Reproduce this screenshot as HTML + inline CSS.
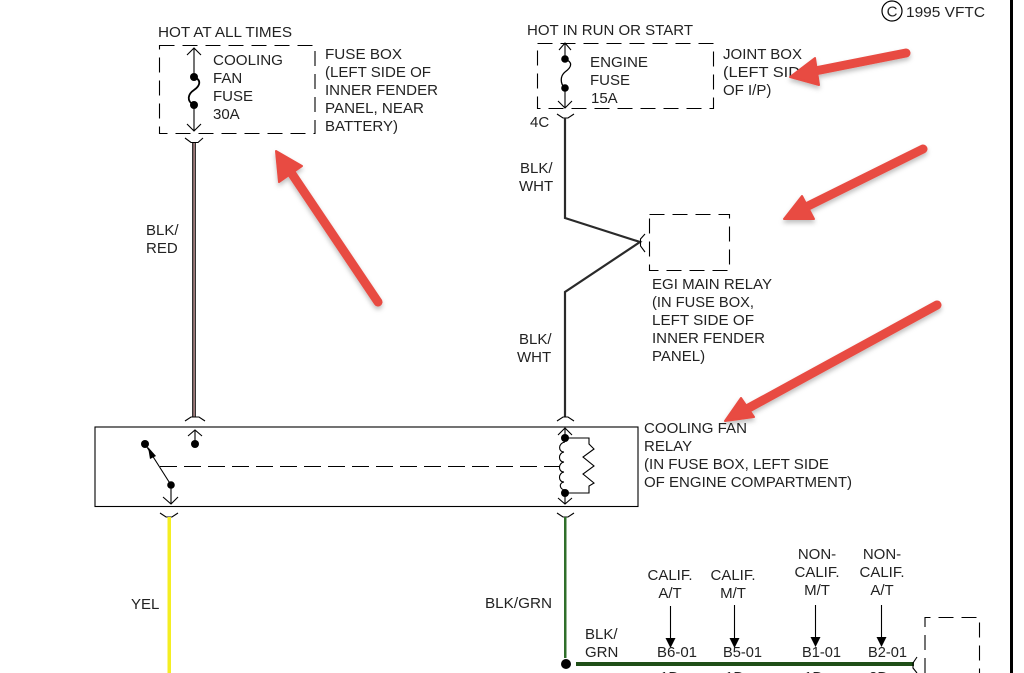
<!DOCTYPE html>
<html><head><meta charset="utf-8"><style>
html,body{margin:0;padding:0;background:#fff;width:1024px;height:673px;overflow:hidden}
svg{display:block}
text{font-family:"Liberation Sans",Arial,sans-serif;font-size:15px;fill:#222}
.m{text-anchor:middle}
.l{fill:none;stroke:#000;stroke-width:1.1}
.d{fill:none;stroke:#000;stroke-width:1.1;stroke-dasharray:15 8}
</style></head><body>
<svg width="1024" height="673" viewBox="0 0 1024 673" xmlns="http://www.w3.org/2000/svg">
<defs><filter id="s" x="-20%" y="-20%" width="140%" height="140%"><feDropShadow dx="0" dy="3" stdDeviation="2.5" flood-color="#000" flood-opacity=".25"/></filter></defs>
<rect width="1024" height="673" fill="#fff"/>
<rect x="1010" y="0" width="3" height="673" fill="#000"/>

<!-- top left -->
<text x="158" y="37" textLength="134" lengthAdjust="spacingAndGlyphs">HOT AT ALL TIMES</text>
<rect class="d" x="159.500" y="45.500" width="155.500" height="88"/>
<path class="l" d="M194 48V77M187 55L194 48L201 55M194 105V131M187 124L194 131L201 124"/>
<path d="M194 77C202 80 200 86 194 90C188 94 186 101 194 105" fill="none" stroke="#000" stroke-width="1.8"/>
<circle cx="194" cy="77" r="4"/><circle cx="194" cy="105" r="4"/>
<text x="213" y="65" textLength="70" lengthAdjust="spacingAndGlyphs">COOLING</text>
<text x="213" y="83">FAN</text><text x="213" y="101">FUSE</text><text x="213" y="119">30A</text>
<text x="325" y="59" textLength="77" lengthAdjust="spacingAndGlyphs">FUSE BOX</text>
<text x="325" y="77" textLength="106" lengthAdjust="spacingAndGlyphs">(LEFT SIDE OF</text>
<text x="325" y="95" textLength="113" lengthAdjust="spacingAndGlyphs">INNER FENDER</text>
<text x="325" y="113" textLength="99" lengthAdjust="spacingAndGlyphs">PANEL, NEAR</text>
<text x="325" y="131" textLength="73" lengthAdjust="spacingAndGlyphs">BATTERY)</text>
<path class="l" d="M185 138L191 142.500H198L203 138"/>
<rect x="192" y="143" width="4" height="274" fill="#333"/>
<rect x="193.500" y="143" width="1.200" height="274" fill="#c99"/>
<text x="146" y="235">BLK/</text><text x="146" y="253">RED</text>

<!-- top middle -->
<text x="527" y="35" textLength="166" lengthAdjust="spacingAndGlyphs">HOT IN RUN OR START</text>
<rect class="d" x="537.500" y="43.500" width="176" height="65"/>
<path class="l" d="M565 43V59M559 50L565 43L571 50M565 88V108M558 101L565 108L572 101"/>
<path d="M565 59C573 62 572 67 565 72C560 76 560 84 565 88" fill="none" stroke="#000" stroke-width="1.300"/>
<circle cx="565" cy="59" r="3.800"/><circle cx="565" cy="88" r="3.800"/>
<text x="590" y="67" textLength="58" lengthAdjust="spacingAndGlyphs">ENGINE</text>
<text x="590" y="85">FUSE</text><text x="591" y="103">15A</text>
<text x="723" y="59" textLength="79" lengthAdjust="spacingAndGlyphs">JOINT BOX</text>
<text x="723" y="77" textLength="88" lengthAdjust="spacingAndGlyphs">(LEFT SIDE</text>
<text x="723" y="95">OF I/P)</text>
<text x="530" y="127">4C</text>
<path class="l" d="M557 114L563 118H568L574 114"/>
<path d="M565 118V218L640 242L565 292V417" fill="none" stroke="#2a2a2a" stroke-width="2.200"/>
<text x="520" y="173">BLK/</text><text x="519" y="191">WHT</text>
<text x="519" y="344">BLK/</text><text x="517" y="362">WHT</text>
<rect class="d" x="649.500" y="214.500" width="80" height="56"/>
<path class="l" d="M645 234L640.500 239V246L645 252"/>
<text x="652" y="289" textLength="120" lengthAdjust="spacingAndGlyphs">EGI MAIN RELAY</text>
<text x="652" y="307" textLength="102" lengthAdjust="spacingAndGlyphs">(IN FUSE BOX,</text>
<text x="652" y="325" textLength="102" lengthAdjust="spacingAndGlyphs">LEFT SIDE OF</text>
<text x="652" y="343" textLength="113" lengthAdjust="spacingAndGlyphs">INNER FENDER</text>
<text x="652" y="361">PANEL)</text>

<circle cx="892" cy="11" r="10" fill="none" stroke="#000" stroke-width="1.200"/>
<text x="892" y="16.500" class="m">C</text>
<text x="906" y="17" textLength="79" lengthAdjust="spacingAndGlyphs">1995 VFTC</text>

<!-- relay -->
<rect x="95" y="427" width="543" height="79.500" fill="none" stroke="#000" stroke-width="1.100"/>
<path class="l" d="M185 421L191 417H199L205 421"/>
<path class="l" d="M195 444V431M188 436L195 430L202 436"/>
<circle cx="195" cy="444" r="4"/>
<circle cx="145" cy="444" r="4"/>
<path class="l" d="M145 444L171 485"/>
<path d="M148 447L156 456L150 459Z"/>
<circle cx="171" cy="485" r="3.800"/>
<path class="l" d="M171 485V504M163 497L171 504L178 497"/>
<path class="l" d="M160 513L166 517H172L178 513"/>
<rect x="167.500" y="517" width="3.500" height="156" fill="#f4ee22"/>
<path class="l" d="M160 466.500H560" stroke-dasharray="17 7"/>
<path class="l" d="M557 421L563 417H568L574 421"/>
<path class="l" d="M565 438V429M558 435L565 428L572 435"/>
<path class="l" d="M565 493V504M558 498L565 504L572 498"/>
<circle cx="565" cy="438" r="4"/><circle cx="565" cy="493" r="4"/>
<path class="l" d="M565 442C558 443 558 452 564 452C558 453 558 462 564 462C558 463 558 472 564 472C558 473 558 482 564 482C558 483 560 490 565 490"/>
<path class="l" d="M565 438H589V444L594 449L583 457L594 466L583 474L594 483L589 486V493H565"/>
<path class="l" d="M557 513L563 517H568L574 513"/>
<text x="644" y="433" textLength="103" lengthAdjust="spacingAndGlyphs">COOLING FAN</text>
<text x="644" y="451">RELAY</text>
<text x="644" y="469" textLength="185" lengthAdjust="spacingAndGlyphs">(IN FUSE BOX, LEFT SIDE</text>
<text x="644" y="487" textLength="208" lengthAdjust="spacingAndGlyphs">OF ENGINE COMPARTMENT)</text>

<!-- bottom -->
<text x="131" y="609">YEL</text>
<text x="485" y="608" textLength="67" lengthAdjust="spacingAndGlyphs">BLK/GRN</text>
<rect x="564" y="517" width="2.500" height="141" fill="#2f6f2a"/>
<circle cx="566" cy="664" r="5"/>
<rect x="576" y="662" width="338" height="4" fill="#1f4f17"/>
<text x="585" y="639">BLK/</text><text x="585" y="657">GRN</text>
<text x="670" y="580" class="m">CALIF.</text><text x="670" y="598" class="m">A/T</text>
<text x="733" y="580" class="m">CALIF.</text><text x="733" y="598" class="m">M/T</text>
<text x="817" y="559" class="m">NON-</text><text x="817" y="577" class="m">CALIF.</text><text x="817" y="595" class="m">M/T</text>
<text x="882" y="559" class="m">NON-</text><text x="882" y="577" class="m">CALIF.</text><text x="882" y="595" class="m">A/T</text>
<path class="l" d="M670.500 606V640M734.500 605V640M815.500 605V640M881.500 605V640"/>
<path d="M665.500 638H675.500L670.500 648ZM729.500 638H739.500L734.500 648ZM810.500 637H820.500L815.500 647ZM876.500 637H886.500L881.500 647Z"/>
<text x="657" y="657" textLength="40" lengthAdjust="spacingAndGlyphs">B6-01</text>
<text x="723" y="657" textLength="39" lengthAdjust="spacingAndGlyphs">B5-01</text>
<text x="802" y="657" textLength="39" lengthAdjust="spacingAndGlyphs">B1-01</text>
<text x="868" y="657" textLength="39" lengthAdjust="spacingAndGlyphs">B2-01</text>
<text x="660" y="682">1D</text><text x="725" y="682">1D</text><text x="804" y="682">1D</text><text x="869" y="682">2D</text>
<path class="l" d="M917 657L913 663V668L917 673"/>
<path class="d" d="M925 673V617.500H979.500V673"/>

<!-- red arrows -->
<g filter="url(#s)" fill="#e84b42" stroke="#e84b42" stroke-linecap="round" stroke-linejoin="round">
<path d="M378 302L288 168" stroke-width="9" fill="none"/>
<path d="M276 151L302 166L279 182Z" stroke-width="2"/>
<path d="M906 53L805 73" stroke-width="9" fill="none"/>
<path d="M790 77L815 58L819 85Z" stroke-width="2"/>
<path d="M923 149L802 209" stroke-width="9" fill="none"/>
<path d="M784 219L802 196L814 219Z" stroke-width="2"/>
<path d="M937 305L745 410" stroke-width="9" fill="none"/>
<path d="M725 421L741 398L754 417Z" stroke-width="2"/>
</g>
</svg>
</body></html>
